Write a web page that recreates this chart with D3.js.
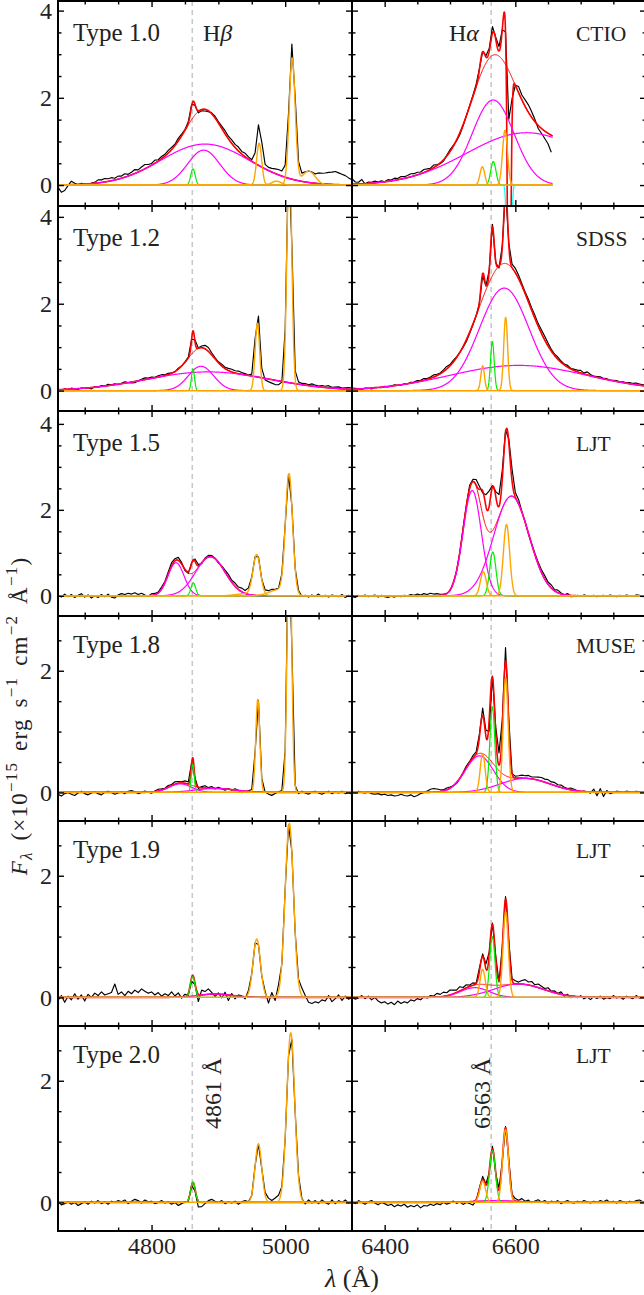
<!DOCTYPE html>
<html>
<head>
<meta charset="utf-8">
<script src="https://cdn.jsdelivr.net/npm/d3@7"></script>
<style>
  body { margin: 0; background: #fff; }
  svg { display: block; }
</style>
</head>
<body>
<svg id="fig" width="644" height="1295"></svg>
<script>
// ---------------------------------------------------------------
// Broad-line AGN spectra: Hβ/[OIII] (left) and Hα/[NII] (right)
// Gaussian components are [centre (Å), sigma (Å), peak flux]
// ---------------------------------------------------------------
const types      = ["Type 1.0", "Type 1.2", "Type 1.5", "Type 1.8", "Type 1.9", "Type 2.0"];
const telescopes = ["CTIO", "SDSS", "LJT", "MUSE", "LJT", "LJT"];
const blueRange  = [4660, 5100];
const redRange   = [6350, 6800];
const restHb = 4861, restHa = 6563;
const blueTicks = [4800, 5000], blueMinor = [4700, 4750, 4850, 4900, 4950, 5050];
const redTicks  = [6400, 6600], redMinor  = [6450, 6500, 6550, 6650, 6700, 6750];
const obsStep = 5;   // Å between observed-spectrum samples

// Hβ broad components (magenta)
const hbBroad = [
  [[4880, 66, 0.94], [4878, 24, 0.80]],
  [[4874, 19, 0.56], [4885, 92, 0.43]],
  [[4836.6, 12, 0.77], [4888, 22, 0.91]],
  [[4843, 17, 0.14], [4895, 30, 0.065]],
  [[4895, 25, 0.055]],
  []
];
// Hβ narrow component (green)
const hbNarrow = [
  [4862, 3.3, 0.37], [4862, 2.3, 0.50], [4862.5, 3.5, 0.30],
  [4861.6, 2.2, 0.46], [4861.6, 3.5, 0.34], [4862, 3.5, 0.33]
];
// [OIII] 4959 and 5007 (orange), each line may have a core and a wing
const oiii4959 = [
  [[4961, 3.8, 0.96], [4987, 7, 0.09]],
  [[4958.4, 3.4, 1.55]],
  [[4957.4, 5.5, 0.93], [4942, 15, 0.05]],
  [[4959, 3.0, 1.53]],
  [[4957.4, 5.5, 0.96]],
  [[4959.9, 5.0, 0.96]]
];
const oiii5007 = [
  [[5010.5, 4.5, 2.9], [5035, 10, 0.32]],
  [[5006.2, 3.6, 5.5]],
  [[5005.8, 5.3, 2.77], [4990, 14, 0.14]],
  [[5006.3, 3.2, 4.6]],
  [[5006.2, 6.3, 2.86]],
  [[5008.3, 6.0, 2.79]]
];
// Hα broad components (magenta)
const haBroad = [
  [[6566, 32, 1.95], [6617, 92, 1.2]],
  [[6583, 38, 2.36], [6605, 105, 0.58]],
  [[6534, 14, 2.45], [6594, 27, 2.32]],
  [[6545, 21.5, 0.6], [6615, 38, 0.23]],
  [[6538, 22, 0.16], [6605, 38, 0.22]],
  [[6570, 30, 0.03]]
];
// Hα narrow component (green)
const haNarrow = [
  [6566.3, 4, 0.54], [6564.8, 2.8, 1.13], [6565.5, 4.8, 1.02],
  [6564.8, 3.8, 1.41], [6564.8, 4, 1.0], [6565, 4.5, 0.85]
];
// [NII] 6548 and 6583 (orange)
const nii6548 = [
  [[6549.5, 3.6, 0.42]], [[6550, 2.8, 0.57]], [[6551, 4.5, 0.56]],
  [[6550, 3.8, 0.63]], [[6550, 4, 0.46]], [[6550, 4.5, 0.35]]
];
const nii6583 = [
  [[6584.2, 3.8, 1.26]], [[6585.2, 3.0, 1.69]], [[6586.5, 4.8, 1.66]],
  [[6585.2, 3.8, 1.89]], [[6585.2, 4, 1.41]], [[6585, 4.5, 1.2]]
];
// absorption feature (cyan), CTIO spectrum only
const haAbsorption = [[[6590.4, 2.3, -8]], [], [], [], [], []];
// CTIO red spectrum stops short of the panel edge
const haEnd = [6657, 6800, 6800, 6800, 6800, 6800];

// Observed minus model, in units of 0.01, sampled every 5 Å from the panel start
const residHb10 = [-5,-17,-13,-2,8,3,-1,2,0,-3, 1,2,7,6,8,6,7,4,7,5, 8,4,6,9,5,8,10,6,4,7,
  3,5,4,6,5,3,6,4,2,3, 4,-2,-5,-3,-4,-2,2,4,3,5, 7,6,8,7,9,6,8,5,2,-3,
  0,2,4,5,3,2,4,6,7,10, 20,8,2,-2,-5,-6,-3,2,14,20, 24,27,28,30,27,24,21,16,12];
const residHa10 = [13,5,4,10,-1,3,2,4,1,3, 0,4,2,5,3,6,4,5,7,5, 6,4,7,5,3,6,2,-2,-3,2,
  4,2,-2,-4,-3,0,2,3,5,2, 0,3,6,15,5,10,0,2,637,58, 0,14,11,15,17,13,5,-7,-11,-17, -24,-39];
const residHb12 = [0,-2,1,-1,2,0,-2,1,-1,0, -3,1,-1,2,0,3,1,2,-1,1, 3,0,-2,-3,0,2,4,2,3,1,
  3,4,2,3,1,-1,2,0,1,2, 0,3,1,4,8,9,5,3,2,4, 3,5,6,5,6,4,3,1,-3,-6,
  2,-2,-4,-6,-8,-10,-9,-6,-3,0, 3,2,5,3,4,2,5,3,2,4, 3,5,2,3,4,2,3,4,3];
const residHa12 = [3,2,0,-1,1,0,-2,1,0,-1, 1,-1,0,2,0,-1,1,0,2,1, 3,2,4,2,3,5,3,2,4,6,
  3,4,2,0,-2,-4,-3,-2,0,-3, -5,-3,2,5,-3,-5,4,0,3,8, 10,8,5,4,6,5,7,6,8,9,
  7,4,3,5,3,2,4,1,3,4, 6,2,7,3,1,2,3,1,2,0, 1,2,0,2,1,3,2,4,3,2,3];
const residHb15 = [2,-3,4,-2,3,-4,1,5,-3,2, -5,0,-4,3,-2,4,-3,-5,2,5, 3,6,4,7,3,6,2,-2,4,3,
  2,5,3,6,8,5,7,4,-3,-4, 2,5,3,-2,2,4,3,1,-2,2, 4,6,3,5,2,4,1,3,0,2,
  3,-2,1,3,4,2,0,3,2,1, 2,-1,3,-2,1,-3,2,-1,4,-2, 1,-3,2,0,-2,3,-4,1,-3];
const residHa15 = [-2,-4,1,-1,2,-2,0,2,-3,1, -2,-4,-1,-3,0,-2,1,0,3,1, 4,2,5,3,6,4,5,3,2,0,
  -2,1,-2,0,3,2,8,5,13,7, -5,27,35,3,11,27,20,8,8,28, 11,10,2,0,-2,1,3,5,6,8,
  5,7,3,6,2,0,4,-3,-2,1, -1,2,0,-1,1,-2,0,1,-1,2, 0,-2,1,-1,2,0,-1,2,1,-2,0];
const residHb18 = [-3,-6,-2,0,-3,-5,-1,2,-2,-4, -1,1,-2,-4,0,2,0,-3,-1,1, -2,2,3,1,-2,0,2,0,-2,1,
  3,2,1,3,2,4,3,2,4,3, 2,0,-2,2,4,1,3,-1,2,0, -2,1,-1,2,0,-3,-1,1,2,3,
  6,2,0,-3,-5,-2,1,2,3,4, 2,0,-2,2,-1,-3,1,2,-1,-3, 0,2,-2,1,-1,2,-2,0,-3];
const residHa18 = [1,-1,2,0,-1,1,-2,-3,-2,-4, -3,-5,-4,-6,-5,-3,-5,-6,-4,-7, -5,-2,0,2,5,6,5,3,2,3,
  2,0,-2,-1,1,3,2,4,3,5, 12,10,-20,2,10,20,14,22,10,0, 3,4,5,4,5,3,4,5,6,5,
  6,4,5,3,4,2,1,3,2,0, -1,1,0,-2,5,-6,6,-7,3,-2, 0,2,1,0,2,1,0,2,1,0,1];
const residHb19 = [-5,3,-8,2,-4,6,-3,4,-6,5, 0,7,3,9,4,6,8,22,5,9, 3,10,6,12,8,14,10,7,9,4,
  8,2,6,3,9,2,7,-2,4,-4, -6,-3,-12,8,5,9,3,-4,2,-6, 4,-9,3,-5,2,1,-4,3,0,2,
  1,-2,3,-10,8,-6,10,-4,2,3, 1,-2,4,12,3,-8,-10,-7,-9,-4, -6,3,-7,-2,4,-5,2,-3,1];
const residHa19 = [1,-3,-1,3,-2,2,-4,0,-6,-9, -7,-11,-8,-12,-6,-10,-7,-9,-4,-6, -2,-4,1,-1,3,2,6,4,7,5,
  8,6,4,7,3,5,2,4,0,6, 4,8,3,2,5,-4,2,4,3,2, 5,3,6,8,5,7,3,6,4,2,
  5,1,3,0,4,-2,2,-3,0,-2, 2,-3,0,-4,1,-2,2,-3,0,-2, 3,-1,1,-3,2,0,-2,3,-1,1,-2];
const residHb20 = [2,-4,-2,1,-3,0,-5,-2,1,-3, 2,-1,3,-2,1,-3,2,0,3,1, 4,-2,2,5,3,-1,4,1,2,-2,
  0,3,-1,1,-3,0,-5,-2,1,-3, 0,-4,-10,-7,-2,3,5,2,0,3, -2,1,-1,2,-3,1,3,0,-2,1,
  0,-2,4,6,3,7,9,2,-3,1, 0,-2,3,1,-3,4,-1,3,-2,4, 0,-3,4,-2,3,0,4,-1,2];
const residHa20 = [2,-2,3,0,-3,1,3,-1,-4,0, -2,-5,-3,-7,-4,-6,-3,-8,-5,-7, -4,-9,-5,-6,-3,-5,-2,-4,0,-3,
  -1,2,-2,0,-4,-1,-3,-6,-2,3, 5,2,-3,4,-2,3,-1,2,3,1, 4,2,5,1,3,-1,2,4,0,3,
  -1,2,0,3,-2,1,3,0,-1,2, 0,3,1,-1,2,0,3,1,4,0, 2,-1,3,1,-1,2,0,3,4,1,2];
const residHb = [residHb10, residHb12, residHb15, residHb18, residHb19, residHb20];
const residHa = [residHa10, residHa12, residHa15, residHa18, residHa19, residHa20];

// y-axis limits per row
const yLimits = [[-0.48, 4.22], [-0.47, 4.25], [-0.47, 4.30], [-0.47, 2.9], [-0.47, 2.9], [-0.47, 2.9]];

// ---------------------------------------------------------------
const FONT = '"Liberation Serif", "DejaVu Serif", serif';
const TXT = "#222";
const svg = d3.select("#fig");
const W = { left: 58, mid: 352, right: 646, top: 1, rowH: 205 };
const xBlue = d3.scaleLinear().domain(blueRange).range([W.left, W.mid]);
const xRed  = d3.scaleLinear().domain(redRange).range([W.mid, W.right]);
const defs = svg.append("defs");

const gauss = (c, w) => c[2] * Math.exp(-((w - c[0]) ** 2) / (2 * c[1] * c[1]));
const sumOf = (list, w) => d3.sum(list, c => gauss(c, w));

function drawPanel(p, y, r) {
  const [x0, x1] = p.x.range();
  const [y1, y0] = y.range();
  const id = `clip-${r}-${p.left ? "b" : "r"}`;
  defs.append("clipPath").attr("id", id)
    .append("rect").attr("x", x0).attr("y", y0).attr("width", x1 - x0).attr("height", y1 - y0);
  const g = svg.append("g");
  const plot = g.append("g").attr("clip-path", `url(#${id})`);

  plot.append("line")
    .attr("x1", p.x(p.rest)).attr("x2", p.x(p.rest)).attr("y1", y0).attr("y2", y1)
    .attr("stroke", "#c8c8c8").attr("stroke-width", 1.6).attr("stroke-dasharray", "5,4");

  const [lo, hi] = p.span;
  const wl = d3.range(lo, hi + 1e-6, 0.5);
  const broadSum = w => sumOf(p.broad, w);
  const balmer = w => broadSum(w) + sumOf([p.narrow], w);
  const forbidden = w => d3.sum(p.forb, ln => sumOf(ln, w));
  const absorb = w => sumOf(p.absorb, w);
  const full = w => balmer(w) + forbidden(w) + absorb(w);
  const redTotal = p.left ? balmer : full;

  const line = d3.line().x(d => p.x(d[0])).y(d => y(d[1]));
  const curve = f => line(wl.map(w => [w, f(w)]));
  const stroke = (d, color, width) => plot.append("path").attr("d", d)
    .attr("fill", "none").attr("stroke", color).attr("stroke-width", width)
    .attr("stroke-linejoin", "round");

  const obs = p.resid.map((v, i) => {
    const w = lo + obsStep * i;
    return [w, full(w) + v / 100];
  });
  stroke(line(obs), "#000", 1.15);
  stroke(curve(redTotal), "#ff0000", 1.6);
  stroke(curve(broadSum), "#ff0000", 1.0);
  p.broad.forEach(c => stroke(curve(w => gauss(c, w)), "#ff00ff", 1.2));
  stroke(curve(w => gauss(p.narrow, w)), "#00ee00", 1.2);
  p.absorb.forEach(c => stroke(curve(w => gauss(c, w)), "#00ffff", 1.2));
  p.forb.forEach(ln => stroke(curve(w => sumOf(ln, w)), "#ffa500", 1.4));

  // axes: inward ticks on all four sides
  const tall = yLimits[r][1] > 3.5;
  const majorY = tall ? [0, 2, 4] : [0, 2];
  const minorY = tall ? [0.5, 1, 1.5, 2.5, 3, 3.5] : [0.5, 1, 1.5, 2.5];
  const style = sel => {
    sel.select(".domain").remove();
    sel.attr("font-family", FONT).attr("font-size", 24).attr("color", "#000");
    sel.selectAll("line").attr("stroke-width", 1.4);
    sel.selectAll("text").attr("fill", TXT);
  };
  const fmtY = p.left ? d3.format("d") : () => "";
  g.append("g").attr("transform", `translate(${x0},0)`)
    .call(d3.axisLeft(y).tickValues(majorY).tickSize(-6).tickPadding(6).tickFormat(fmtY)).call(style);
  g.append("g").attr("transform", `translate(${x0},0)`)
    .call(d3.axisLeft(y).tickValues(minorY).tickSize(-3.5).tickFormat(() => "")).call(style);
  g.append("g").attr("transform", `translate(${x1},0)`)
    .call(d3.axisRight(y).tickValues(majorY).tickSize(-6).tickFormat(() => "")).call(style);
  g.append("g").attr("transform", `translate(${x1},0)`)
    .call(d3.axisRight(y).tickValues(minorY).tickSize(-3.5).tickFormat(() => "")).call(style);

  const fmtX = r === 5 ? d3.format("d") : () => "";
  g.append("g").attr("transform", `translate(0,${y1})`)
    .call(d3.axisBottom(p.x).tickValues(p.ticks).tickSize(-6).tickPadding(6).tickFormat(fmtX)).call(style);
  g.append("g").attr("transform", `translate(0,${y1})`)
    .call(d3.axisBottom(p.x).tickValues(p.minor).tickSize(-3.5).tickFormat(() => "")).call(style);
  g.append("g").attr("transform", `translate(0,${y0})`)
    .call(d3.axisTop(p.x).tickValues(p.ticks).tickSize(-6).tickFormat(() => "")).call(style);
  g.append("g").attr("transform", `translate(0,${y0})`)
    .call(d3.axisTop(p.x).tickValues(p.minor).tickSize(-3.5).tickFormat(() => "")).call(style);

  g.append("rect").attr("x", x0).attr("y", y0).attr("width", x1 - x0).attr("height", y1 - y0)
    .attr("fill", "none").attr("stroke", "#000").attr("stroke-width", 2);
}

d3.range(6).forEach(r => {
  const top = W.top + W.rowH * r;
  const y = d3.scaleLinear().domain(yLimits[r]).range([top + W.rowH, top]);
  drawPanel({
    left: true, x: xBlue, span: blueRange, rest: restHb, ticks: blueTicks, minor: blueMinor,
    broad: hbBroad[r], narrow: hbNarrow[r], forb: [oiii4959[r], oiii5007[r]], absorb: [],
    resid: residHb[r]
  }, y, r);
  drawPanel({
    left: false, x: xRed, span: [redRange[0], haEnd[r]], rest: restHa, ticks: redTicks, minor: redMinor,
    broad: haBroad[r], narrow: haNarrow[r], forb: [nii6548[r], nii6583[r]], absorb: haAbsorption[r],
    resid: residHa[r]
  }, y, r);

  const base = top + (r < 3 ? 40 : 37);
  svg.append("text").attr("x", 73).attr("y", base).text(types[r])
    .attr("font-family", FONT).attr("font-size", 25).attr("fill", TXT);
  svg.append("text").attr("x", 576).attr("y", base).text(telescopes[r])
    .attr("font-family", FONT).attr("font-size", 21.5).attr("fill", TXT);
});

// line labels
function lineLabel(x, y, name, greek) {
  const t = svg.append("text").attr("x", x).attr("y", y)
    .attr("font-family", FONT).attr("font-size", 24).attr("fill", TXT);
  t.append("tspan").text(name);
  t.append("tspan").attr("font-style", "italic").text(greek);
}
lineLabel(203, 41, "H", "β");
lineLabel(449, 41, "H", "α");

svg.append("text").attr("transform", `translate(221,1129) rotate(-90)`)
  .attr("font-family", FONT).attr("font-size", 24).attr("fill", TXT).text(`${restHb} Å`);
svg.append("text").attr("transform", `translate(490,1129) rotate(-90)`)
  .attr("font-family", FONT).attr("font-size", 24).attr("fill", TXT).text(`${restHa} Å`);

// axis titles
const xt = svg.append("text").attr("x", 352).attr("y", 1287).attr("text-anchor", "middle")
  .attr("font-family", FONT).attr("font-size", 26).attr("fill", TXT);
xt.append("tspan").attr("font-style", "italic").text("λ");
xt.append("tspan").text(" (Å)");

const yt = svg.append("text").attr("transform", "translate(27,716) rotate(-90)")
  .attr("text-anchor", "middle").attr("font-family", FONT).attr("font-size", 23)
  .attr("fill", TXT).attr("letter-spacing", 1.2).attr("word-spacing", 4);
const parts = [
  ["F", "n", true], ["λ", "sub", true], [" (×10", "n"], ["−15", "sup"], [" erg s", "n"],
  ["−1", "sup"], [" cm", "n"], ["−2", "sup"], [" Å", "n"], ["−1", "sup"], [")", "n"]
];
let shift = 0;
parts.forEach(([txt, kind, ital]) => {
  const target = kind === "sub" ? 5 : kind === "sup" ? -10 : 0;
  const ts = yt.append("tspan").attr("dy", target - shift).text(txt);
  if (kind !== "n") ts.attr("font-size", 17);
  if (ital) ts.attr("font-style", "italic");
  shift = target;
});
</script>
</body>
</html>
